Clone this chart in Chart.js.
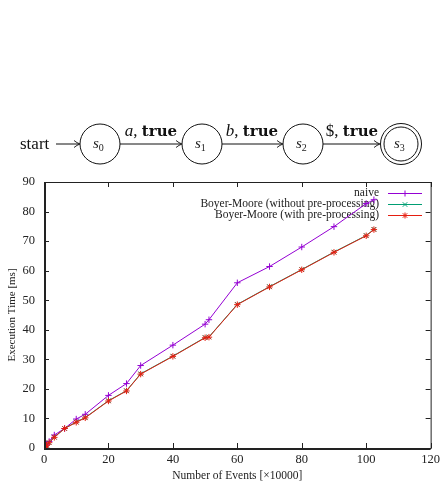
<!DOCTYPE html>
<html>
<head>
<meta charset="utf-8">
<script src="https://cdn.jsdelivr.net/npm/chart.js@4/dist/chart.umd.min.js"></script>
<style>
  body { margin: 0; background: #fff; }
  #wrap { position: relative; width: 444px; height: 483px; }
  #c { position: absolute; left: 0; top: 0; }
  #fsm { position: absolute; left: 0; top: 0; }
</style>
</head>
<body>
<div id="wrap">
<canvas id="c" width="444" height="483"></canvas>
<svg id="fsm" width="444" height="180" font-family="Liberation Serif" fill="none" stroke="#111">
  <text x="20" y="149" font-size="17" fill="#111" stroke="none">start</text>
  <line x1="56" y1="144" x2="79" y2="144" stroke-width="1"/>
  <path d="M74 140.5 Q77 143 80 144 Q77 145 74 147.5" stroke-width="0.9"/>

  <circle cx="100" cy="144" r="20" stroke-width="1"/>
  <text x="93" y="148" font-size="15" font-style="italic" fill="#222" stroke="none">s<tspan font-size="10" font-style="normal" dy="3">0</tspan></text>
  <line x1="120" y1="144" x2="181" y2="144" stroke-width="1"/>
  <path d="M176 140.5 Q179 143 182 144 Q179 145 176 147.5" stroke-width="0.9"/>
  <text x="151" y="136" font-size="17" text-anchor="middle" fill="#111" stroke="none"><tspan font-style="italic">a</tspan>, <tspan font-family="DejaVu Serif" font-size="15" font-weight="bold">true</tspan></text>

  <circle cx="202" cy="144" r="20" stroke-width="1"/>
  <text x="195" y="148" font-size="15" font-style="italic" fill="#222" stroke="none">s<tspan font-size="10" font-style="normal" dy="3">1</tspan></text>
  <line x1="222" y1="144" x2="282" y2="144" stroke-width="1"/>
  <path d="M277 140.5 Q280 143 283 144 Q280 145 277 147.5" stroke-width="0.9"/>
  <text x="252" y="136" font-size="17" text-anchor="middle" fill="#111" stroke="none"><tspan font-style="italic">b</tspan>, <tspan font-family="DejaVu Serif" font-size="15" font-weight="bold">true</tspan></text>

  <circle cx="303" cy="144" r="20" stroke-width="1"/>
  <text x="296" y="148" font-size="15" font-style="italic" fill="#222" stroke="none">s<tspan font-size="10" font-style="normal" dy="3">2</tspan></text>
  <line x1="323" y1="144" x2="379" y2="144" stroke-width="1"/>
  <path d="M374 140.5 Q377 143 380 144 Q377 145 374 147.5" stroke-width="0.9"/>
  <text x="352" y="136" font-size="17" text-anchor="middle" fill="#111" stroke="none">$, <tspan font-family="DejaVu Serif" font-size="15" font-weight="bold">true</tspan></text>

  <circle cx="401" cy="144" r="20.5" stroke-width="1"/>
  <circle cx="401" cy="144" r="17" stroke-width="1"/>
  <text x="394" y="148" font-size="15" font-style="italic" fill="#222" stroke="none">s<tspan font-size="10" font-style="normal" dy="3">3</tspan></text>
</svg>
</div>
<script>
// number of events (x 10000)
const events = [0.1, 0.2, 0.4, 0.8, 1.6, 3.2, 6.4, 10, 12.8, 20, 25.6, 30, 40, 50, 51.2, 60, 70, 80, 90, 100, 102.4];
// execution time in ms
const naive = [0.1, 0.3, 0.6, 1.1, 2.2, 4.4, 6.6, 9.8, 11.4, 17.8, 21.8, 27.9, 34.8, 41.9, 43.4, 55.9, 61.4, 68.0, 74.9, 82.7, 84.0];
const bmNoPre = [0.1, 0.2, 0.5, 0.9, 1.8, 3.7, 6.6, 8.8, 10.3, 16.0, 19.4, 25.1, 31.1, 37.4, 37.6, 48.6, 54.6, 60.4, 66.3, 71.9, 74.0];
const bmPre = [0.1, 0.2, 0.5, 0.9, 1.8, 3.6, 6.6, 8.7, 10.2, 15.9, 19.3, 25.0, 31.0, 37.3, 37.5, 48.5, 54.5, 60.3, 66.2, 71.8, 73.9];

const seriesNames = ['naive', 'Boyer-Moore (without pre-processing)', 'Boyer-Moore (with pre-processing)'];
const xTicks = [0, 20, 40, 60, 80, 100, 120];
const yTicks = [0, 10, 20, 30, 40, 50, 60, 70, 80, 90];

const FONT = 'Liberation Serif';
const INK = '#222';

function pts(ys) {
  return events.map((x, i) => ({ x: x, y: ys[i] }));
}

function mkSet(label, ys, color, style, order) {
  return {
    label: label,
    data: pts(ys),
    order: order,
    borderColor: color,
    backgroundColor: color,
    borderWidth: 1,
    pointStyle: style,
    pointRadius: 3.2,
    pointBorderWidth: 1,
    pointBorderColor: color,
    tension: 0
  };
}

// gnuplot like frame with inward ticks
const framePlugin = {
  id: 'frame',
  afterDraw(chart) {
    const ctx = chart.ctx, a = chart.chartArea;
    const xs = chart.scales.x, ys = chart.scales.y;
    ctx.save();
    ctx.strokeStyle = '#222';
    ctx.lineWidth = 1;
    ctx.beginPath();
    xTicks.forEach(v => {
      const p = Math.round(xs.getPixelForValue(v)) + 0.5;
      ctx.moveTo(p, a.bottom); ctx.lineTo(p, a.bottom - 5);
      ctx.moveTo(p, a.top); ctx.lineTo(p, a.top + 5);
    });
    yTicks.forEach(v => {
      const p = Math.round(ys.getPixelForValue(v)) + 0.5;
      ctx.moveTo(a.left, p); ctx.lineTo(a.left + 5, p);
      ctx.moveTo(a.right, p); ctx.lineTo(a.right - 5, p);
    });
    ctx.stroke();
    ctx.strokeRect(a.left + 0.5, a.top + 0.5, a.right - a.left, a.bottom - a.top);
    ctx.lineWidth = 2;
    ctx.beginPath();
    ctx.moveTo(a.left + 1, a.top); ctx.lineTo(a.left + 1, a.bottom + 1);
    ctx.lineTo(a.right, a.bottom + 1);
    ctx.stroke();
    ctx.restore();
  }
};

function mark(ctx, style, x, y, r) {
  ctx.beginPath();
  if (style === 'cross' || style === 'star') {
    ctx.moveTo(x - r, y); ctx.lineTo(x + r, y);
    ctx.moveTo(x, y - r); ctx.lineTo(x, y + r);
  }
  if (style === 'crossRot' || style === 'star') {
    const d = r * 0.75;
    ctx.moveTo(x - d, y - d); ctx.lineTo(x + d, y + d);
    ctx.moveTo(x - d, y + d); ctx.lineTo(x + d, y - d);
  }
  ctx.stroke();
}

// key in the top right corner, inside the plot
const keyPlugin = {
  id: 'key',
  beforeDatasetsDraw(chart) {
    const ctx = chart.ctx;
    ctx.save();
    ctx.font = '11.5px "' + FONT + '"';
    ctx.textAlign = 'right';
    ctx.textBaseline = 'middle';
    chart.data.datasets.forEach((ds, i) => {
      const y = 193 + i * 11;
      ctx.fillStyle = INK;
      ctx.fillText(ds.label, 379, y);
      ctx.strokeStyle = ds.borderColor;
      ctx.lineWidth = 1;
      ctx.beginPath();
      ctx.moveTo(388, y + 0.5); ctx.lineTo(422, y + 0.5);
      ctx.stroke();
      mark(ctx, ds.pointStyle, 405, y + 0.5, 3);
    });
    ctx.restore();
  }
};

new Chart(document.getElementById('c'), {
  type: 'line',
  data: {
    datasets: [
      mkSet(seriesNames[0], naive, '#9400d3', 'cross', 2),
      mkSet(seriesNames[1], bmNoPre, '#009e73', 'crossRot', 1),
      mkSet(seriesNames[2], bmPre, '#e51e10', 'star', 0)
    ]
  },
  options: {
    responsive: false,
    animation: false,
    layout: { padding: { top: 182, right: 9, left: 0, bottom: 0 } },
    plugins: { legend: { display: false }, tooltip: { enabled: false } },
    scales: {
      x: {
        type: 'linear',
        min: 0, max: 120,
        afterBuildTicks: s => { s.ticks = xTicks.map(v => ({ value: v })); },
        afterFit: s => { s.height = 35; },
        grid: { display: false, drawTicks: false },
        border: { display: false },
        ticks: { color: INK, padding: 4, maxRotation: 0, font: { family: FONT, size: 12.5 } },
        title: {
          display: true,
          text: 'Number of Events [×10000]',
          color: INK,
          padding: { top: 0, bottom: 0 },
          font: { family: FONT, size: 11.5 }
        }
      },
      y: {
        min: 0, max: 90,
        afterBuildTicks: s => { s.ticks = yTicks.map(v => ({ value: v })); },
        afterFit: s => { s.width = 44; },
        grid: { display: false, drawTicks: false },
        border: { display: false },
        ticks: { color: INK, padding: 9, font: { family: FONT, size: 12.5 } },
        title: {
          display: true,
          text: 'Execution Time [ms]',
          color: INK,
          padding: { top: 6, bottom: 0 },
          font: { family: FONT, size: 11 }
        }
      }
    }
  },
  plugins: [keyPlugin, framePlugin]
});
</script>
</body>
</html>
